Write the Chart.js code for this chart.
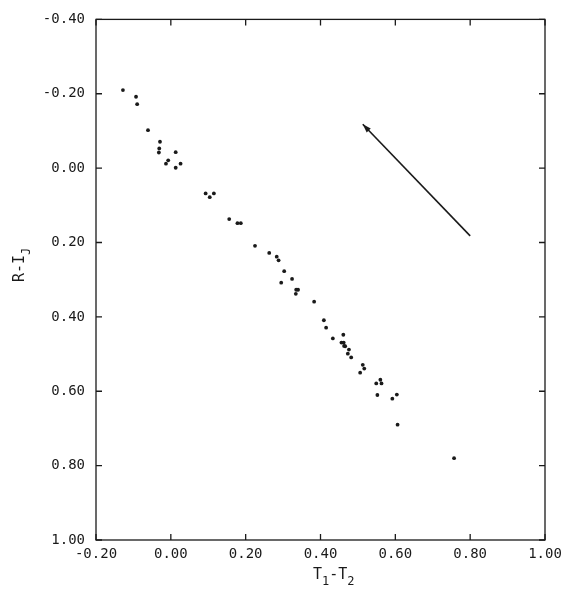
<!DOCTYPE html>
<html>
<head>
<meta charset="utf-8">
<script src="https://cdn.jsdelivr.net/npm/chart.js@4/dist/chart.umd.min.js"></script>
<style>
  html, body { margin: 0; padding: 0; background: #fff; }
  #wrap { width: 570px; height: 596px; }
</style>
</head>
<body>
<div id="wrap"><canvas id="plot"></canvas></div>
<script>
// T1-T2 (x) vs R-I_J (y)
const xVals = [-0.128, -0.093, -0.090, -0.061, -0.029, -0.031, -0.032, 0.013, -0.007, -0.013,
  0.013, 0.026, 0.093, 0.104, 0.115, 0.156, 0.178, 0.187, 0.225, 0.263,
  0.283, 0.288, 0.303, 0.324, 0.295, 0.335, 0.340, 0.334, 0.383, 0.409,
  0.415, 0.433, 0.461, 0.456, 0.462, 0.463, 0.466, 0.476, 0.473, 0.482,
  0.513, 0.517, 0.506, 0.560, 0.549, 0.563, 0.552, 0.592, 0.604, 0.606,
  0.757];
const yVals = [-0.210, -0.192, -0.172, -0.102, -0.071, -0.053, -0.042, -0.043, -0.021, -0.012,
  -0.001, -0.012, 0.068, 0.078, 0.068, 0.137, 0.148, 0.148, 0.209, 0.228,
  0.238, 0.248, 0.277, 0.298, 0.308, 0.327, 0.327, 0.338, 0.359, 0.409,
  0.429, 0.458, 0.448, 0.469, 0.469, 0.478, 0.479, 0.488, 0.499, 0.509,
  0.529, 0.539, 0.550, 0.569, 0.579, 0.579, 0.610, 0.620, 0.609, 0.690,
  0.780];

// arrow: tail then head
const arrowX = [0.80, 0.513];
const arrowY = [0.182, -0.118];

const xTicks = [-0.2, 0, 0.2, 0.4, 0.6, 0.8, 1.0];
const yTicks = [-0.4, -0.2, 0, 0.2, 0.4, 0.6, 0.8, 1.0];

const FONT = "'DejaVu Sans Mono', monospace";
const INK = "#1a1a1a";

function fmt(v) {
  if (Math.abs(v) < 1e-9) return "0.00";
  return v.toFixed(2);
}

const points = xVals.map((x, i) => ({ x: x, y: yVals[i] }));
const arrowPts = arrowX.map((x, i) => ({ x: x, y: arrowY[i] }));

// frame, inward ticks, arrow head and axis titles with subscripts
const framePlugin = {
  id: "frame",
  afterDraw(chart) {
    const ctx = chart.ctx;
    const a = chart.chartArea;
    const xs = chart.scales.x, ys = chart.scales.y;
    ctx.save();
    ctx.strokeStyle = INK;
    ctx.lineWidth = 1.3;
    ctx.strokeRect(a.left, a.top, a.right - a.left, a.bottom - a.top);
    xTicks.forEach(v => {
      const px = xs.getPixelForValue(v);
      ctx.beginPath();
      ctx.moveTo(px, a.bottom); ctx.lineTo(px, a.bottom - 6);
      ctx.moveTo(px, a.top); ctx.lineTo(px, a.top + 6);
      ctx.stroke();
    });
    yTicks.forEach(v => {
      const py = ys.getPixelForValue(v);
      ctx.beginPath();
      ctx.moveTo(a.left, py); ctx.lineTo(a.left + 6, py);
      ctx.moveTo(a.right, py); ctx.lineTo(a.right - 6, py);
      ctx.stroke();
    });

    // arrow head
    const tx = xs.getPixelForValue(arrowX[0]), ty = ys.getPixelForValue(arrowY[0]);
    const hx = xs.getPixelForValue(arrowX[1]), hy = ys.getPixelForValue(arrowY[1]);
    const ang = Math.atan2(hy - ty, hx - tx);
    const len = 9, spread = 0.32;
    ctx.fillStyle = INK;
    ctx.beginPath();
    ctx.moveTo(hx, hy);
    ctx.lineTo(hx - len * Math.cos(ang - spread), hy - len * Math.sin(ang - spread));
    ctx.lineTo(hx - len * Math.cos(ang + spread), hy - len * Math.sin(ang + spread));
    ctx.closePath();
    ctx.fill();

    // x title: T1-T2
    ctx.fillStyle = INK;
    ctx.textBaseline = "alphabetic";
    ctx.textAlign = "left";
    const big = "15px " + FONT, small = "12px " + FONT;
    let x = 313, base = 579;
    const parts = [["T", big, 0], ["1", small, 6], ["-", big, 0], ["T", big, 0], ["2", small, 6]];
    parts.forEach(p => {
      ctx.font = p[1];
      ctx.fillText(p[0], x, base + p[2]);
      x += ctx.measureText(p[0]).width;
    });

    // y title: R-IJ rotated
    ctx.save();
    ctx.translate(24, 282);
    ctx.rotate(-Math.PI / 2);
    let yx = 0;
    const yparts = [["R", big, 0], ["-", big, 0], ["I", big, 0], ["J", small, 6]];
    yparts.forEach(p => {
      ctx.font = p[1];
      ctx.fillText(p[0], yx, p[2]);
      yx += ctx.measureText(p[0]).width;
    });
    ctx.restore();
    ctx.restore();
  }
};

new Chart(document.getElementById("plot"), {
  type: "scatter",
  data: {
    datasets: [
      {
        data: points,
        backgroundColor: INK,
        borderColor: INK,
        pointRadius: 1.9,
        pointBorderWidth: 0,
        showLine: false
      },
      {
        data: arrowPts,
        showLine: true,
        borderColor: INK,
        borderWidth: 1.6,
        pointRadius: 0,
        fill: false
      }
    ]
  },
  options: {
    responsive: true,
    maintainAspectRatio: false,
    animation: false,
    layout: { padding: { top: 17, right: 25, left: 0, bottom: 0 } },
    plugins: { legend: { display: false }, tooltip: { enabled: false } },
    scales: {
      x: {
        type: "linear",
        min: -0.2,
        max: 1.0,
        afterFit(scale) { scale.height = 56; },
        afterBuildTicks(scale) { scale.ticks = xTicks.map(v => ({ value: v })); },
        grid: { display: false, drawTicks: false },
        border: { display: false },
        ticks: {
          padding: 6,
          color: INK,
          font: { family: FONT, size: 14 },
          callback: v => fmt(v)
        }
      },
      y: {
        type: "linear",
        reverse: true,
        min: -0.4,
        max: 1.0,
        afterFit(scale) { scale.width = 96; },
        afterBuildTicks(scale) { scale.ticks = yTicks.map(v => ({ value: v })); },
        grid: { display: false, drawTicks: false },
        border: { display: false },
        ticks: {
          padding: 11,
          color: INK,
          font: { family: FONT, size: 14 },
          callback: v => fmt(v)
        }
      }
    }
  },
  plugins: [framePlugin]
});
</script>
</body>
</html>
